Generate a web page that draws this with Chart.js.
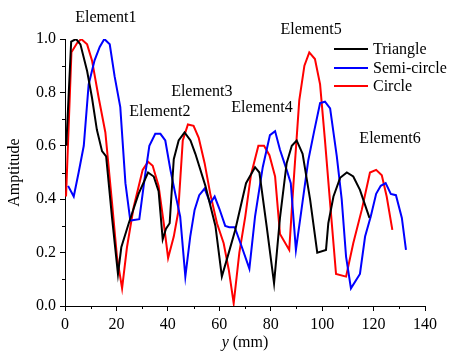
<!DOCTYPE html>
<html>
<head>
<meta charset="utf-8">
<script src="https://cdn.jsdelivr.net/npm/chart.js@4"></script>
<style>
  html, body { margin: 0; padding: 0; background: #fff; }
  #wrap { width: 450px; height: 351px; }
</style>
</head>
<body>
<div id="wrap"><canvas id="ampChart" width="450" height="351"></canvas></div>
<script>
// Triangle (black)
const triangleX = [0.5, 2.4, 4.3, 6.0, 8.6, 10.5, 12.4, 14.4, 16.0, 18.3, 20.6, 21.9, 24.8, 28.6, 32.3, 34.5, 36.4, 38.0, 39.3, 40.7,
    42.3, 44.2, 46.5, 48.8, 50.7, 54.6, 58.5, 61.0, 63.7, 66.2, 70.4, 73.9, 75.6, 78.4, 81.3, 83.6, 86.2, 88.2, 90.1, 92.4,
    95.3, 98.1, 101.5, 102.4, 104.4, 107.0, 109.6, 112.1, 114.7, 118.4];
const triangleY = [0.60, 0.99, 1.00, 0.98, 0.88, 0.78, 0.66, 0.58, 0.56, 0.33, 0.12, 0.22, 0.31, 0.42, 0.50, 0.485, 0.43, 0.25, 0.29, 0.31,
    0.55, 0.62, 0.65, 0.62, 0.57, 0.45, 0.30, 0.11, 0.20, 0.285, 0.46, 0.52, 0.50, 0.30, 0.085, 0.33, 0.535, 0.60, 0.62, 0.57,
    0.40, 0.20, 0.21, 0.31, 0.41, 0.48, 0.50, 0.485, 0.435, 0.33];

// Semi-circle (blue)
const semiX = [1.2, 3.4, 5.3, 7.3, 9.2, 11.5, 13.5, 15.3, 17.4, 19.3, 21.5, 23.5, 25.4, 28.9, 31.0, 32.8, 35.1, 37.1, 39.0, 41.0,
    42.9, 44.8, 46.8, 48.7, 50.4, 52.2, 54.3, 56.5, 58.2, 60.0, 62.3, 63.9, 66.0, 68.8, 71.7, 73.9, 76.9, 79.7, 81.7, 83.6,
    86.2, 87.8, 89.8, 92.1, 94.6, 96.9, 99.2, 101.1, 103.1, 105.7, 107.6, 109.3, 111.2, 114.7, 116.7, 118.9, 121.0, 122.8, 124.7, 126.7,
    128.7, 131.0, 132.6];
const semiY = [0.45, 0.41, 0.50, 0.60, 0.83, 0.92, 0.97, 1.00, 0.98, 0.86, 0.745, 0.46, 0.32, 0.325, 0.48, 0.60, 0.645, 0.645, 0.62, 0.51,
    0.42, 0.335, 0.11, 0.26, 0.36, 0.415, 0.44, 0.385, 0.41, 0.365, 0.30, 0.295, 0.295, 0.22, 0.14, 0.335, 0.52, 0.64, 0.655, 0.585,
    0.51, 0.46, 0.21, 0.37, 0.545, 0.655, 0.76, 0.765, 0.74, 0.56, 0.40, 0.185, 0.066, 0.12, 0.26, 0.335, 0.42, 0.45, 0.46, 0.42,
    0.415, 0.33, 0.21];

// Circle (red)
const circleX = [0.4, 2.5, 4.7, 6.3, 8.6, 10.5, 13.1, 15.7, 18.3, 20.2, 22.2, 24.1, 26.7, 30.2, 32.3, 34.1, 36.4, 38.4, 40.1, 42.3,
    44.0, 45.8, 47.8, 50.0, 52.0, 54.3, 56.5, 59.1, 61.7, 63.7, 65.6, 67.8, 70.1, 72.3, 75.2, 77.4, 79.5, 81.7, 83.6, 87.2,
    88.8, 91.1, 93.1, 95.0, 97.2, 99.2, 101.1, 103.1, 105.4, 109.3, 112.1, 115.4, 118.6, 121.0, 123.2, 125.1, 127.3];
const circleY = [0.41, 0.95, 0.985, 1.00, 0.98, 0.92, 0.78, 0.65, 0.385, 0.185, 0.066, 0.22, 0.37, 0.51, 0.54, 0.525, 0.45, 0.31, 0.18, 0.26,
    0.35, 0.62, 0.68, 0.675, 0.63, 0.535, 0.42, 0.31, 0.235, 0.135, 0.01, 0.20, 0.335, 0.49, 0.60, 0.60, 0.565, 0.485, 0.27, 0.21,
    0.45, 0.77, 0.90, 0.95, 0.925, 0.83, 0.62, 0.385, 0.12, 0.11, 0.235, 0.36, 0.50, 0.51, 0.49, 0.41, 0.285];

// element annotations, in data units
const elementNames = ['Element1', 'Element2', 'Element3', 'Element4', 'Element5', 'Element6'];
const elementX = [15.9, 36.9, 53.2, 76.6, 95.7, 126.4];
const elementY = [1.079, 0.726, 0.801, 0.742, 1.034, 0.625];

const seriesNames = ['Triangle', 'Semi-circle', 'Circle'];
const seriesColors = ['#000000', '#0000ff', '#ff0000'];

const FONT = '"Liberation Serif", "Times New Roman", serif';

function toPoints(xs, ys) {
    return xs.map(function(x, i) { return { x: x, y: ys[i] }; });
}

function isMajorX(v) { return Math.round(v) % 20 === 0; }
function isMajorY(v) { return Math.round(v * 10) % 2 === 0; }

const extras = {
    id: 'extras',
    afterDraw: function(chart) {
        const ctx = chart.ctx;
        const xs = chart.scales.x;
        const ys = chart.scales.y;
        const area = chart.chartArea;
        ctx.save();

        // minor ticks, shorter than the major ones
        ctx.strokeStyle = '#000';
        ctx.lineWidth = 1;
        ctx.beginPath();
        xs.ticks.forEach(function(t) {
            if (isMajorX(t.value)) return;
            const px = Math.round(xs.getPixelForValue(t.value)) + 0.5;
            ctx.moveTo(px, area.bottom);
            ctx.lineTo(px, area.bottom + 3);
        });
        ys.ticks.forEach(function(t) {
            if (isMajorY(t.value)) return;
            const py = Math.round(ys.getPixelForValue(t.value)) + 0.5;
            ctx.moveTo(area.left, py);
            ctx.lineTo(area.left - 3, py);
        });
        ctx.stroke();

        ctx.fillStyle = '#000';
        ctx.font = '16px ' + FONT;
        ctx.textAlign = 'center';
        ctx.textBaseline = 'middle';
        elementNames.forEach(function(name, i) {
            ctx.fillText(name, xs.getPixelForValue(elementX[i]), ys.getPixelForValue(elementY[i]));
        });

        // legend
        ctx.textAlign = 'left';
        const legendRows = [49, 68, 86];
        seriesNames.forEach(function(name, i) {
            ctx.strokeStyle = seriesColors[i];
            ctx.lineWidth = 2;
            ctx.beginPath();
            ctx.moveTo(334, legendRows[i]);
            ctx.lineTo(368, legendRows[i]);
            ctx.stroke();
            ctx.fillText(name, 373, legendRows[i] + 1);
        });

        // x title with italic y
        const midX = (area.left + area.right) / 2;
        const ty = 343;
        ctx.font = 'italic 16px ' + FONT;
        const w1 = ctx.measureText('y').width;
        ctx.font = '16px ' + FONT;
        const w2 = ctx.measureText(' (mm)').width;
        const startX = midX - (w1 + w2) / 2;
        ctx.font = 'italic 16px ' + FONT;
        ctx.fillText('y', startX, ty);
        ctx.font = '16px ' + FONT;
        ctx.fillText(' (mm)', startX + w1, ty);
        ctx.restore();
    }
};

document.addEventListener('DOMContentLoaded', function() {
    const ctx = document.getElementById('ampChart').getContext('2d');
    const pointSets = [
        toPoints(triangleX, triangleY),
        toPoints(semiX, semiY),
        toPoints(circleX, circleY)
    ];

    new Chart(ctx, {
        type: 'line',
        data: {
            datasets: seriesNames.map(function(name, i) {
                return {
                    label: name,
                    data: pointSets[i],
                    borderColor: seriesColors[i],
                    borderWidth: 2,
                    pointRadius: 0,
                    tension: 0,
                    fill: false
                };
            })
        },
        options: {
            responsive: false,
            animation: false,
            layout: { padding: { top: 39, right: 25, left: 0, bottom: 0 } },
            plugins: {
                legend: { display: false },
                tooltip: { enabled: false }
            },
            scales: {
                x: {
                    type: 'linear',
                    min: 0,
                    max: 140,
                    afterFit: function(s) { s.height = 45; },
                    border: { display: true, color: '#000', width: 1 },
                    grid: {
                        drawOnChartArea: false,
                        drawTicks: true,
                        tickLength: 5,
                        tickColor: function(c) { return c.tick && isMajorX(c.tick.value) ? '#000' : 'rgba(0,0,0,0)'; }
                    },
                    ticks: {
                        stepSize: 10,
                        autoSkip: false,
                        maxRotation: 0,
                        color: '#000',
                        padding: 4,
                        font: { family: FONT, size: 16 },
                        callback: function(v) { return isMajorX(v) ? String(v) : ''; }
                    }
                },
                y: {
                    min: 0,
                    max: 1,
                    afterFit: function(s) { s.width = 65; },
                    border: { display: true, color: '#000', width: 1 },
                    grid: {
                        drawOnChartArea: false,
                        drawTicks: true,
                        tickLength: 5,
                        tickColor: function(c) { return c.tick && isMajorY(c.tick.value) ? '#000' : 'rgba(0,0,0,0)'; }
                    },
                    title: {
                        display: true,
                        text: 'Amptitude',
                        color: '#000',
                        font: { family: FONT, size: 16 },
                        padding: { top: 5, bottom: 0 }
                    },
                    ticks: {
                        stepSize: 0.1,
                        autoSkip: false,
                        color: '#000',
                        padding: 4,
                        font: { family: FONT, size: 16 },
                        callback: function(v) {
                            const k = Math.round(v * 10);
                            return isMajorY(v) ? (k / 10).toFixed(1) : '';
                        }
                    }
                }
            }
        },
        plugins: [extras]
    });
});
</script>
</body>
</html>
